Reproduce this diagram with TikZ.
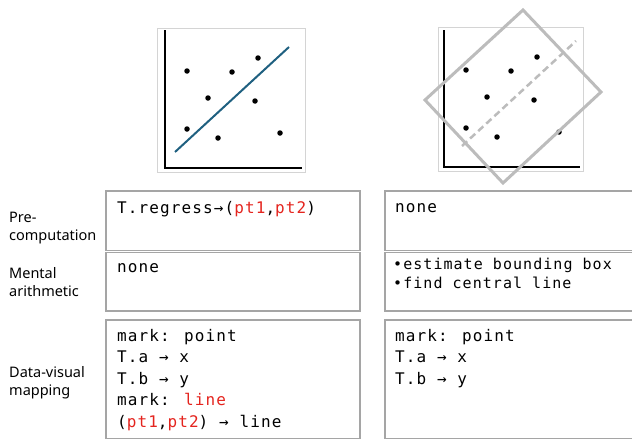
\documentclass[tikz,border=0pt]{standalone}
\usepackage{fontspec}
\setmainfont{Noto Sans}
\newfontfamily\codefont[LetterSpace=7]{DejaVu Sans Mono}
\definecolor{cellgray}{RGB}{165,165,165}
\definecolor{framegray}{RGB}{212,212,212}
\definecolor{boxgray}{RGB}{188,188,188}
\definecolor{fitblue}{RGB}{31,96,128}
\definecolor{codered}{RGB}{228,36,30}
\newcommand{\hl}[1]{\textcolor{codered}{#1}}
\tikzset{
  cell/.style={draw=cellgray, line width=1.5pt, inner sep=0pt, anchor=north west},
  rowlabel/.style={anchor=base west, inner sep=0pt, align=left, font=\fontsize{14.5}{18}\selectfont},
  code/.style={anchor=base west, inner sep=0pt, align=left, font=\codefont\fontsize{16}{21.5}\selectfont},
  smallcode/.style={code, font=\codefont\fontsize{15}{19}\selectfont},
  dot/.style={circle, fill=black, inner sep=0pt, minimum size=5.5pt}
}
\begin{document}
\begin{tikzpicture}[x=1pt, y=-1pt]
    \useasboundingbox (0,0) rectangle (632,439);
    % Scatter plot with fitted line
    \begin{scope}[shift={(165,168)}]
        \draw[framegray, line width=0.8pt] (-8,-140) rectangle (140,4);
        \draw[line width=2pt] (0,-138) -- (0,0) -- (137,0);
        \foreach \px/\py [count=\i] in {22/-97, 67/-96, 93/-110, 43/-70, 90/-67, 22/-39, 53/-30, 115/-35}
            \node[dot] (l\i) at (\px,\py) {};
        \draw[fitblue, line width=2pt] (10,-16) -- (124,-121);
    \end{scope}
    % Scatter plot with bounding box
    \begin{scope}[shift={(444,167)}]
        \draw[framegray, line width=0.8pt] (-6,-140) rectangle (139,4);
        \draw[line width=2pt] (0,-137) -- (0,0) -- (136,0);
        \foreach \px/\py [count=\i] in {22/-97, 67/-96, 93/-110, 43/-70, 90/-67, 22/-39, 53/-30, 115/-35}
            \node[dot] (r\i) at (\px,\py) {};
        \draw[boxgray, line width=2.5pt, dash pattern=on 7pt off 4pt] (18,-21) -- (132,-126);
        \draw[boxgray, line width=3pt, line join=miter] (79,-157) -- (157,-75) -- (59,16) -- (-19,-67) -- cycle;
    \end{scope}
    % Cells
    \node[cell, minimum width=254pt, minimum height=59.5pt] (pre-l) at (105,190) {};
    \node[cell, minimum width=250pt, minimum height=59.5pt] (pre-r) at (384,190) {};
    \node[cell, minimum width=254pt, minimum height=58.5pt] (mental-l) at (105,251.5) {};
    \node[cell, minimum width=250pt, minimum height=58.5pt] (mental-r) at (384,251.5) {};
    \node[cell, minimum width=254pt, minimum height=119pt] (map-l) at (105,319) {};
    \node[cell, minimum width=250pt, minimum height=119pt] (map-r) at (384,319) {};
    % Row labels (base = last line)
    \node[rowlabel] (pre-lbl) at (9,240) {Pre-\\computation};
    \node[rowlabel] (mental-lbl) at (9,296) {Mental\\arithmetic};
    \node[rowlabel] (map-lbl) at (9,395) {Data-visual\\mapping};
    % Cell texts
    \node[code] (pre-l-txt) at (117,213) {T.regress→(\hl{pt1},\hl{pt2})};
    \node[code] (pre-r-txt) at (395,212) {none};
    \node[code] (mental-l-txt) at (117,272) {none};
    \node[smallcode] (mental-r-txt) at (393,288) {•estimate bounding box\\•find central line};
    \node[code] (map-l-txt) at (117,427) {mark: point\\T.a → x\\T.b → y\\mark: \hl{line}\\(\hl{pt1},\hl{pt2}) → line};
    \node[code] (map-r-txt) at (395,384) {mark: point\\T.a → x\\T.b → y};
\end{tikzpicture}
\end{document}
